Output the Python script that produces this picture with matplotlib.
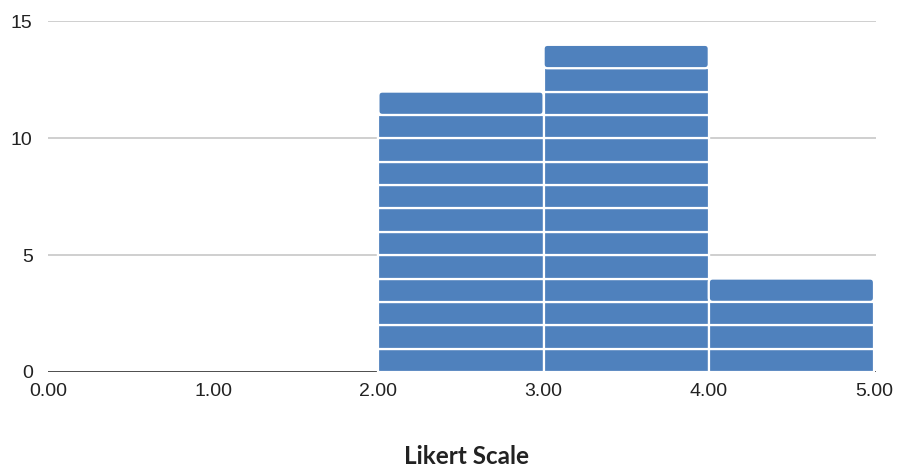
import matplotlib
matplotlib.use("Agg")
import matplotlib.pyplot as plt
from matplotlib.patches import FancyBboxPatch

# Likert responses binned 0-5, counts per bin
bin_edges = [0, 1, 2, 3, 4, 5]
counts = [0, 0, 12, 14, 4]
y_ticks = [0, 5, 10, 15]
x_ticks = [0, 1, 2, 3, 4, 5]
x_labels = ["0.00", "1.00", "2.00", "3.00", "4.00", "5.00"]

bar_color = "#4f81bd"
plt.rcParams["font.family"] = ["Liberation Sans", "DejaVu Sans"]

fig = plt.figure(figsize=(8.98, 4.71), dpi=100)
ax = fig.add_axes([48 / 898, 1 - 372 / 471, 828 / 898, 351 / 471])
ax.set_xlim(0, 5 * 828 / 826)
ax.set_ylim(0, 15.02)

# x/y data-per-pixel ratio so the top corners round evenly
aspect = (15.02 / 351) / (5 * 828 / 826 / 828)
r = 4 * 5 / 826

# each bar is a stack of unit blocks split by thin white lines
for left, right, n in zip(bin_edges[:-1], bin_edges[1:], counts):
    for k in range(n):
        if k < n - 1:
            ax.bar(left, 1, width=right - left, bottom=k, align="edge",
                   color=bar_color, edgecolor="white", linewidth=1.6, zorder=3)
        else:
            ax.add_patch(FancyBboxPatch(
                (left, k), right - left, 1,
                boxstyle=f"round,pad=0,rounding_size={r}",
                mutation_aspect=aspect, facecolor=bar_color,
                edgecolor="white", linewidth=1.6, zorder=3))

ax.set_yticks(y_ticks)
ax.set_xticks(x_ticks)
ax.set_xticklabels(x_labels)
ax.grid(axis="y", color="#cccccc", linewidth=1.3, zorder=0)
ax.axhline(0, color="#444444", linewidth=1.3, zorder=2)
for s in ax.spines.values():
    s.set_visible(False)
ax.tick_params(length=0, labelsize=14, colors="#222222")
ax.tick_params(axis="y", pad=11)
ax.tick_params(axis="x", pad=8)

fig.text(467 / 898, 1 - 456 / 471, "Likert Scale", ha="center", va="center",
         fontsize=17.5, fontweight="bold", family=["Lato", "DejaVu Sans"],
         color="#222222")

fig.savefig("out.png", dpi=100)
